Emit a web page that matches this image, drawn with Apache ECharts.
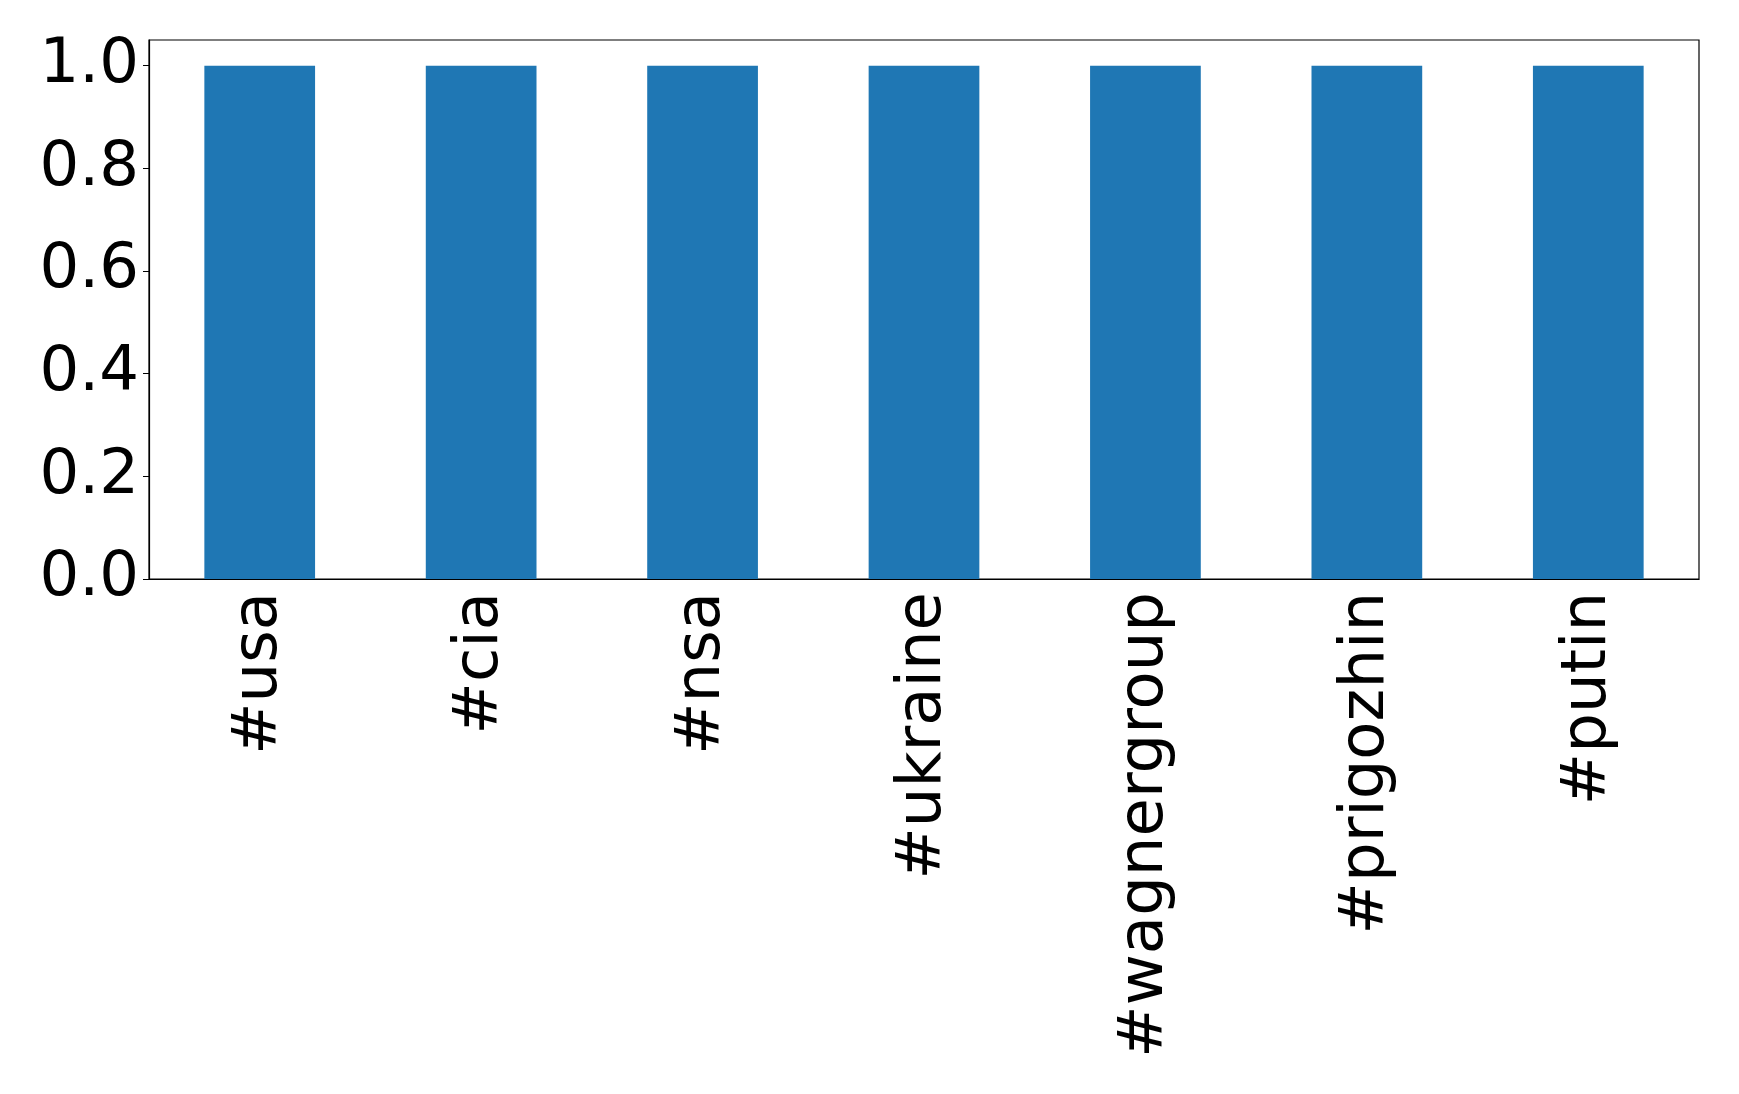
<!DOCTYPE html>
<html>
<head>
<meta charset="utf-8">
<script src="https://cdn.jsdelivr.net/npm/echarts@6/dist/echarts.min.js"></script>
<style>
html,body{margin:0;padding:0;background:#fff;}
#chart{width:1739px;height:1094px;}
</style>
</head>
<body>
<div id="chart"></div>
<script>
const categories = ['#usa', '#cia', '#nsa', '#ukraine', '#wagnergroup', '#prigozhin', '#putin'];
const values = [1, 1, 1, 1, 1, 1, 1];
const yTicks = [0, 0.2, 0.4, 0.6, 0.8, 1.0];

const chart = echarts.init(document.getElementById('chart'), null, {renderer: 'canvas'});
const font = 'DejaVu Sans';
chart.setOption({
  animation: false,
  backgroundColor: '#ffffff',
  grid: {
    left: 149, right: 40, top: 40, bottom: 515,
    show: true, borderColor: '#000', borderWidth: 1.2, backgroundColor: 'transparent'
  },
  xAxis: {
    type: 'category',
    data: categories,
    boundaryGap: true,
    axisLine: {lineStyle: {color: '#000', width: 1.2}},
    axisTick: {alignWithLabel: true, length: 6, lineStyle: {color: '#000', width: 1}},
    axisLabel: {rotate: 90, margin: 13, color: '#000', fontFamily: font, fontSize: 62.5, interval: 0},
    splitLine: {show: false}
  },
  yAxis: {
    type: 'value',
    min: 0, max: 1.05,
    axisLine: {show: true, lineStyle: {color: '#000', width: 1.2}},
    axisTick: {show: true, length: 6, customValues: yTicks, lineStyle: {color: '#000', width: 1}},
    axisLabel: {customValues: yTicks, margin: 10, color: '#000', fontFamily: font, fontSize: 62.5,
      formatter: v => v.toFixed(1)},
    splitLine: {show: false}
  },
  series: [{
    type: 'bar',
    data: values,
    barWidth: '50%',
    itemStyle: {color: '#1f77b4'}
  }]
});
</script>
</body>
</html>
